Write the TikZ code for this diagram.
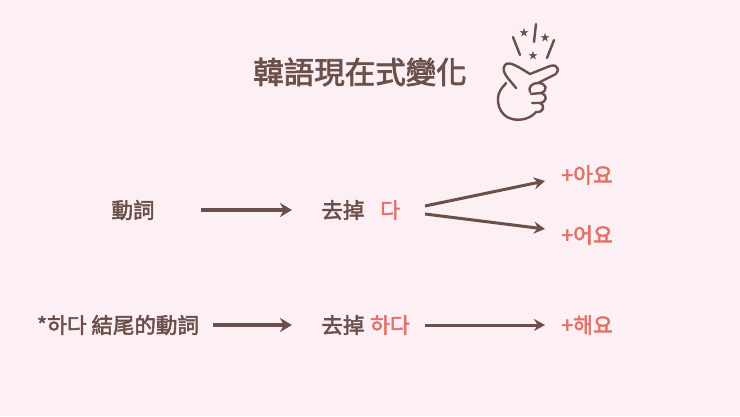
\documentclass[tikz,border=0pt]{standalone}
\usepackage{fontspec}
\setmainfont{Noto Sans CJK TC}[BoldFont={Noto Sans CJK TC},BoldFeatures={FakeBold=2.5}]
\usetikzlibrary{arrows.meta}
\definecolor{bg}{HTML}{FDF0F5}
\definecolor{br}{HTML}{6B4F4A}
\definecolor{rd}{HTML}{E0736A}
\begin{document}
\begin{tikzpicture}[x=1pt,y=-1pt,
  lbl/.style={font=\bfseries\fontsize{21.5}{23}\selectfont,text=br,inner sep=1pt},
  red/.style={font=\bfseries\fontsize{21.5}{23}\selectfont,text=rd,inner sep=1pt},
  arr/.style={draw=br,line width=3.8pt,-{Stealth[length=12pt,width=14pt]}},
  thin/.style={draw=br,line width=3pt,-{Stealth[length=11pt,width=12pt]}},
  ic/.style={draw=br,line width=2.4pt,line cap=round,line join=round}]
\fill[bg] (0,0) rectangle (740,416);
\useasboundingbox (0,0) rectangle (740,416);
\node[lbl,font=\bfseries\fontsize{30.5}{32}\selectfont] (t) at (360,72) {韓語現在式變化};
% icon
\draw[ic] (513,37)--(520,55) (536,24)--(534,42) (554,40)--(547,58);
\node[text=br,font=\fontsize{10}{10}\selectfont,inner sep=0] (s1) at (524,33) {★};
\node[text=br,font=\fontsize{10}{10}\selectfont,inner sep=0] (s2) at (545,38) {★};
\node[text=br,font=\fontsize{10}{10}\selectfont,inner sep=0] (s3) at (533,56) {★};
\draw[ic] (516,88) .. controls (510,80) and (500,72) .. (505,65) .. controls (509,60) and (520,68) .. (530,74)
 -- (550,66) .. controls (559,63) and (561,73) .. (552,76) -- (538,83)
 .. controls (546,83) and (549,90) .. (541,93) .. controls (548,95) and (547,102) .. (540,103)
 .. controls (546,106) and (543,113) .. (536,112) .. controls (530,119) and (520,121) .. (512,119)
 .. controls (499,116) and (495,100) .. (500,91) .. controls (502,87) and (505,85) .. (506,83);
\draw[ic] (538,83) .. controls (532,83) and (528,87) .. (530,92) (541,93) -- (531,94) (540,103) -- (532,103);
% row 1
\node[lbl] (v) at (133,210) {動詞};
\node[lbl] (q1) at (343,210) {去掉};
\node[red] (d) at (390,210) {다};
\node[red] (a1) at (587,175) {+아요};
\node[red] (a2) at (587,235) {+어요};
\draw[arr] (201,210) -- (292,210);
\draw[thin] (425,206) -- (545,181);
\draw[thin] (425,214) -- (545,229);
% row 2
\node[lbl] (h) at (118,325) {*하다 結尾的動詞};
\node[lbl] (q2) at (343,325) {去掉};
\node[red] (hd) at (390,325) {하다};
\node[red] (a3) at (587,325) {+해요};
\draw[arr] (213,325) -- (292,325);
\draw[thin] (425,325) -- (545,325);
\end{tikzpicture}
\end{document}
